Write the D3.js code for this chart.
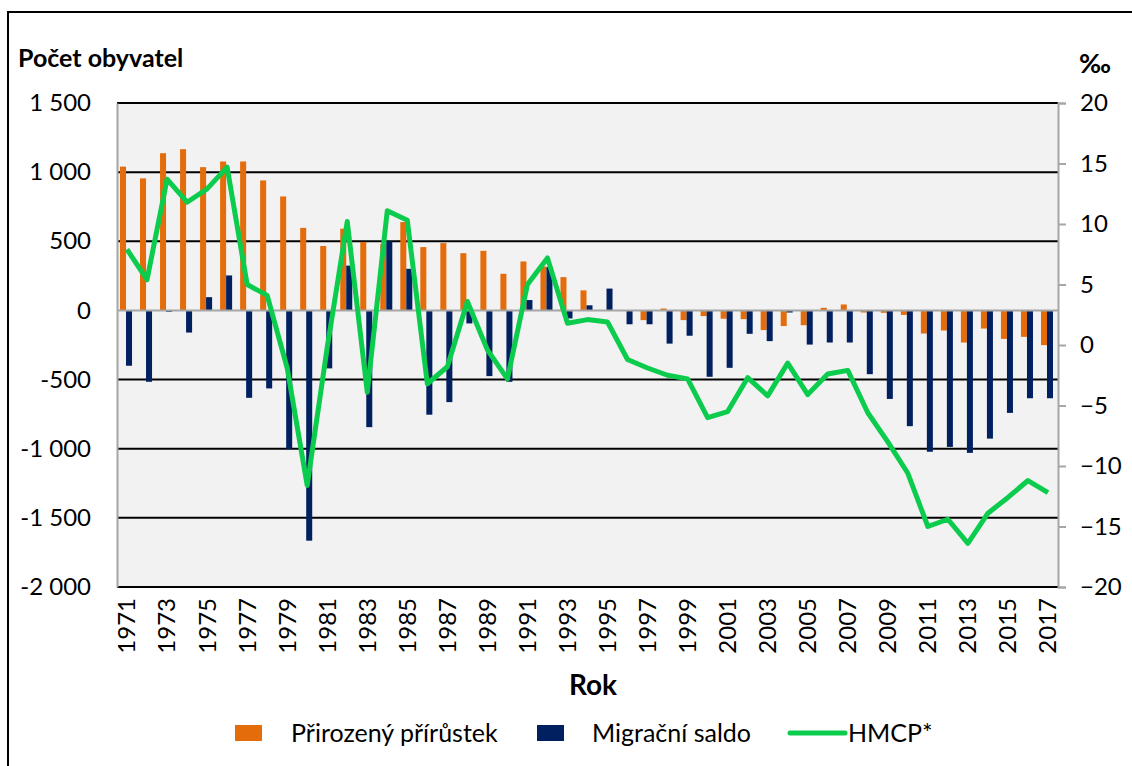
<!DOCTYPE html>
<html>
<head>
<meta charset="utf-8">
<script src="https://cdn.jsdelivr.net/npm/d3@7"></script>
<style>
  body { margin: 0; background: #fff; }
  svg text { font-family: Lato, "Open Sans", sans-serif; fill: #000; }
</style>
</head>
<body>
<div id="chart"></div>
<script>
// roky
var years = d3.range(1971, 2018);

// Přirozený přírůstek (počet obyvatel)
var natural = [1040, 955, 1137, 1166, 1036, 1077, 1077, 940, 824, 597,
               466, 591, 495, 480, 639, 458, 487, 414, 431, 265,
               354, 318, 241, 145, -4, -4, -70, 14, -70, -41,
               -60, -63, -142, -113, -107, 19, 43, -15, -17, -32,
               -167, -145, -232, -131, -206, -191, -251];

// Migrační saldo (počet obyvatel)
var migration = [-400, -516, -10, -160, 96, 253, -632, -564, -1003, -1665,
                 -419, 324, -844, 501, 301, -754, -663, -94, -475, -516,
                 75, 313, -58, 37, 158, -100, -100, -240, -183, -480,
                 -415, -169, -222, -15, -247, -232, -232, -461, -640, -837,
                 -1022, -987, -1030, -927, -741, -635, -635];

// HMCP* (‰)
var hmcp = [7.9, 5.4, 13.7, 11.8, 12.9, 14.7, 5.0, 4.1, -1.9, -11.6,
            -0.2, 10.2, -3.9, 11.1, 10.3, -3.2, -1.8, 3.6, -0.4, -2.8,
            5.0, 7.2, 1.8, 2.1, 1.9, -1.2, -1.9, -2.5, -2.8, -6.0,
            -5.5, -2.7, -4.2, -1.5, -4.1, -2.4, -2.1, -5.6, -8.0, -10.6,
            -15.0, -14.4, -16.4, -13.9, -12.6, -11.2, -12.2];

var leftTicks = [1500, 1000, 500, 0, -500, -1000, -1500, -2000];
var rightTicks = [20, 15, 10, 5, 0, -5, -10, -15, -20];
var seriesNames = ["Přirozený přírůstek", "Migrační saldo", "HMCP*"];

var width = 1132, height = 766;
var plot = {left: 117, right: 1058, top: 103, bottom: 587};

var svg = d3.select("#chart").append("svg")
    .attr("width", width)
    .attr("height", height);

// ramecek grafu
svg.append("rect")
    .attr("x", 8).attr("y", 12)
    .attr("width", 1200).attr("height", 900)
    .attr("fill", "none")
    .attr("stroke", "#000")
    .attr("stroke-width", 2);

var x = d3.scaleBand()
    .domain(years)
    .range([plot.left, plot.right]);

var x1 = d3.scaleBand()
    .domain(["natural", "migration"])
    .range([3, x.bandwidth() - 5]);

var y = d3.scaleLinear()
    .domain([-2000, 1500])
    .range([plot.bottom, plot.top]);

var y2 = d3.scaleLinear()
    .domain([-20, 20])
    .range([plot.bottom, plot.top]);

// pozadi
svg.append("rect")
    .attr("x", plot.left).attr("y", plot.top)
    .attr("width", plot.right - plot.left)
    .attr("height", plot.bottom - plot.top)
    .attr("fill", "#f2f2f2");

// mrizka
svg.append("g")
    .selectAll("line")
    .data(leftTicks.filter(function(d) { return d != 0; }))
    .join("line")
    .attr("x1", plot.left).attr("x2", plot.right)
    .attr("y1", function(d) { return y(d); })
    .attr("y2", function(d) { return y(d); })
    .attr("stroke", "#000")
    .attr("stroke-width", 2);

// sloupce
var colors = {natural: "#e46c0a", migration: "#002060"};
var rows = years.map(function(yr, i) {
    return {year: yr, natural: natural[i], migration: migration[i]};
});

var groups = svg.append("g")
    .selectAll("g")
    .data(rows)
    .join("g")
    .attr("transform", function(d) { return "translate(" + x(d.year) + ",0)"; });

groups.selectAll("rect")
    .data(function(d) {
        return ["natural", "migration"].map(function(k) { return {key: k, value: d[k]}; });
    })
    .join("rect")
    .attr("x", function(d) { return x1(d.key); })
    .attr("width", x1.bandwidth())
    .attr("y", function(d) { return y(Math.max(0, d.value)); })
    .attr("height", function(d) { return Math.abs(y(d.value) - y(0)); })
    .attr("fill", function(d) { return colors[d.key]; });

// nulova cara
svg.append("line")
    .attr("x1", plot.left).attr("x2", plot.right)
    .attr("y1", y(0)).attr("y2", y(0))
    .attr("stroke", "#a6a6a6")
    .attr("stroke-width", 2);

// osa vlevo
var fmt = function(v) {
    var s = d3.format(",")(Math.abs(v)).replace(/,/g, " ");
    return (v < 0 ? "-" : "") + s;
};

var yAxis = svg.append("g")
    .attr("transform", "translate(" + plot.left + ",0)")
    .call(d3.axisLeft(y).tickValues(leftTicks).tickFormat(fmt).tickSize(0).tickPadding(26));
yAxis.select(".domain").attr("stroke", "#a6a6a6").attr("stroke-width", 2);
yAxis.selectAll("text").style("font-size", "24px").attr("fill", "#000");

// osa vpravo
var yAxis2 = svg.append("g")
    .attr("transform", "translate(" + plot.right + ",0)")
    .call(d3.axisRight(y2).tickValues(rightTicks).tickSize(8).tickPadding(14));
yAxis2.select(".domain").attr("stroke", "#a6a6a6").attr("stroke-width", 2);
yAxis2.selectAll("line").attr("stroke", "#a6a6a6").attr("stroke-width", 2);
yAxis2.selectAll("text").style("font-size", "24px").attr("fill", "#000");

// osa x
var xAxis = svg.append("g")
    .attr("transform", "translate(0," + plot.bottom + ")")
    .call(d3.axisBottom(x).tickValues(years.filter(function(d) { return d % 2 == 1; })).tickSize(0));
xAxis.select(".domain").remove();
xAxis.selectAll("text")
    .style("font-size", "24px")
    .style("text-anchor", "end")
    .attr("transform", "rotate(-90)")
    .attr("x", -11)
    .attr("y", 0)
    .attr("dy", "0.35em");

// HMCP cara
svg.append("path")
    .datum(hmcp)
    .attr("fill", "none")
    .attr("stroke", "#0ccc4e")
    .attr("stroke-width", 5)
    .attr("stroke-linejoin", "round")
    .attr("d", d3.line()
        .x(function(d, i) { return x(years[i]) + x.bandwidth() / 2; })
        .y(function(d) { return y2(d); }));

// popisky
svg.append("text")
    .attr("x", 18).attr("y", 67)
    .style("font-size", "25px").style("font-weight", "bold")
    .text("Počet obyvatel");

svg.append("text")
    .attr("x", 1079).attr("y", 73)
    .style("font-size", "27px").style("font-weight", "bold")
    .text("‰");

svg.append("text")
    .attr("x", 593).attr("y", 695)
    .attr("text-anchor", "middle")
    .style("font-size", "28px").style("font-weight", "bold")
    .text("Rok");

// legenda
var legend = svg.append("g").attr("transform", "translate(0,733)");
legend.append("rect").attr("x", 235).attr("y", -8).attr("width", 27).attr("height", 16).attr("fill", colors.natural);
legend.append("text").attr("x", 291).attr("y", 0).attr("dy", "0.35em").style("font-size", "25px").text(seriesNames[0]);
legend.append("rect").attr("x", 537).attr("y", -8).attr("width", 27).attr("height", 16).attr("fill", colors.migration);
legend.append("text").attr("x", 592).attr("y", 0).attr("dy", "0.35em").style("font-size", "25px").text(seriesNames[1]);
legend.append("line").attr("x1", 790).attr("x2", 845).attr("y1", 0).attr("y2", 0)
    .attr("stroke", "#0ccc4e").attr("stroke-width", 5).attr("stroke-linecap", "round");
legend.append("text").attr("x", 848).attr("y", 0).attr("dy", "0.35em").style("font-size", "25px").text(seriesNames[2]);
</script>
</body>
</html>
